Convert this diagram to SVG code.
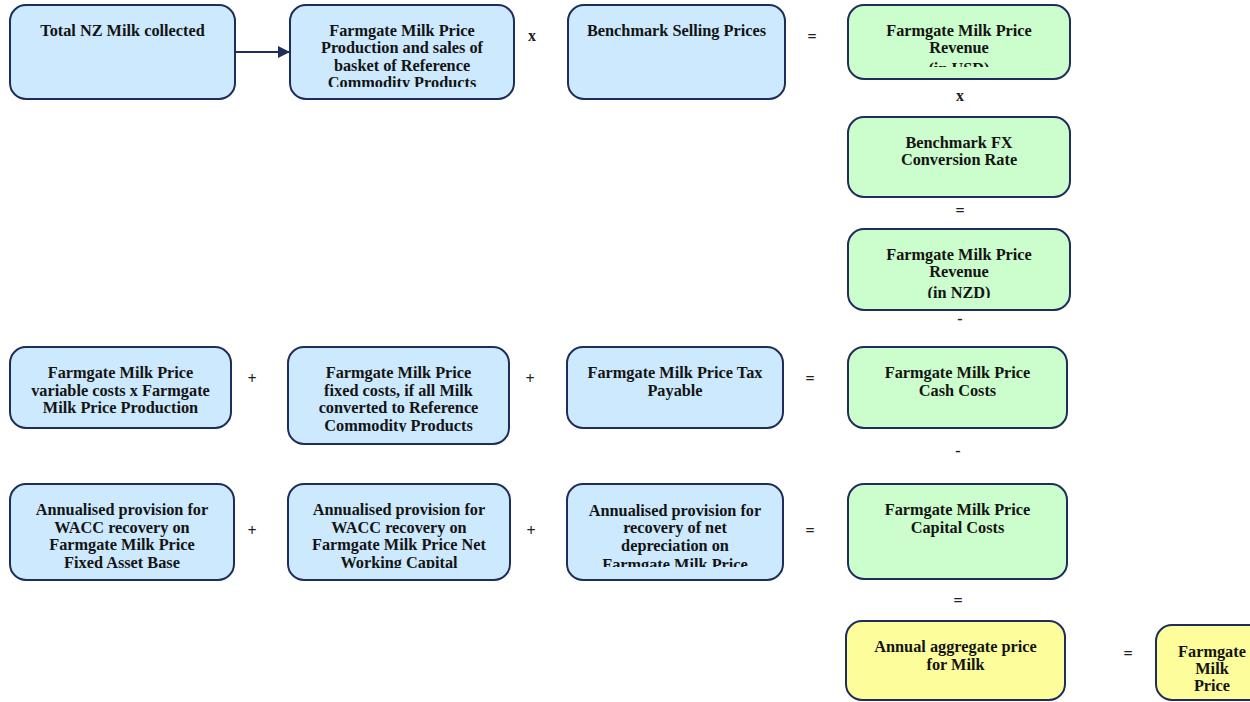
<svg xmlns="http://www.w3.org/2000/svg" width="1250" height="702" viewBox="0 0 1250 702">
<style>
.box{stroke:#1f2d5c;stroke-width:2}
.blue{fill:#cce9fd}
.green{fill:#ccfdcc}
.yellow{fill:#fdfd9c}
.t{font-family:"Liberation Serif","Times New Roman",serif;font-weight:bold;font-size:16.3px;fill:#141414;text-anchor:middle}
.op{font-family:"Liberation Serif","Times New Roman",serif;font-weight:bold;font-size:16px;fill:#202020;text-anchor:middle}
.conn{stroke:#1f2d5c;stroke-width:2;fill:none}
</style>
<defs>
<marker id="arr" markerWidth="12" markerHeight="12" refX="11" refY="6" orient="auto" markerUnits="userSpaceOnUse">
<path d="M0,0 L12,6 L0,12 Z" fill="#1f2d5c"/>
</marker>
<clipPath id="c-b2"><rect x="290" y="5" width="224" height="82"/></clipPath>
<clipPath id="c-g1"><rect x="848" y="5" width="222" height="62"/></clipPath>
<clipPath id="c-g3"><rect x="848" y="229" width="222" height="69"/></clipPath>
<clipPath id="c-r3b"><rect x="288" y="347" width="221" height="85"/></clipPath>
<clipPath id="c-r4a"><rect x="10" y="484" width="224" height="85"/></clipPath>
<clipPath id="c-r4b"><rect x="288" y="484" width="222" height="84"/></clipPath>
<clipPath id="c-r4c"><rect x="567" y="484" width="216" height="83"/></clipPath>
</defs>

<g id="connectors">
<line class="conn" x1="235" y1="52" x2="289" y2="52" marker-end="url(#arr)"/>
</g>

<g id="b1">
<rect class="box blue" x="10" y="5" width="225" height="94" rx="16"/>
<text class="t" x="122.5" y="35.5">Total NZ Milk collected</text>
</g>
<g id="b2">
<rect class="box blue" x="290" y="5" width="224" height="94" rx="16"/>
<text class="t" clip-path="url(#c-b2)"><tspan x="402" y="35.5">Farmgate Milk Price</tspan><tspan x="402" y="53">Production and sales of</tspan><tspan x="402" y="70.5">basket of Reference</tspan><tspan x="402" y="88">Commodity Products</tspan></text>
</g>
<g id="b3">
<rect class="box blue" x="568" y="5" width="217" height="94" rx="16"/>
<text class="t" x="676.5" y="35.5">Benchmark Selling Prices</text>
</g>
<g id="g1">
<rect class="box green" x="848" y="5" width="222" height="74" rx="16"/>
<text class="t" clip-path="url(#c-g1)"><tspan x="959" y="35.5">Farmgate Milk Price</tspan><tspan x="959" y="53">Revenue</tspan><tspan x="959" y="74">(in USD)</tspan></text>
</g>
<g id="g2">
<rect class="box green" x="848" y="117" width="222" height="80" rx="16"/>
<text class="t"><tspan x="959" y="147.5">Benchmark FX</tspan><tspan x="959" y="165">Conversion Rate</tspan></text>
</g>
<g id="g3">
<rect class="box green" x="848" y="229" width="222" height="81" rx="16"/>
<text class="t" clip-path="url(#c-g3)"><tspan x="959" y="259.5">Farmgate Milk Price</tspan><tspan x="959" y="277">Revenue</tspan><tspan x="959" y="298">(in NZD)</tspan></text>
</g>

<g id="r3a">
<rect class="box blue" x="10" y="347" width="221" height="81" rx="16"/>
<text class="t"><tspan x="120.5" y="378">Farmgate Milk Price</tspan><tspan x="120.5" y="395.5">variable costs x Farmgate</tspan><tspan x="120.5" y="413">Milk Price Production</tspan></text>
</g>
<g id="r3b">
<rect class="box blue" x="288" y="347" width="221" height="97" rx="16"/>
<text class="t" clip-path="url(#c-r3b)"><tspan x="398.5" y="378">Farmgate Milk Price</tspan><tspan x="398.5" y="395.5">fixed costs, if all Milk</tspan><tspan x="398.5" y="413">converted to Reference</tspan><tspan x="398.5" y="430.5">Commodity Products</tspan></text>
</g>
<g id="r3c">
<rect class="box blue" x="567" y="347" width="216" height="81" rx="16"/>
<text class="t"><tspan x="675" y="378">Farmgate Milk Price Tax</tspan><tspan x="675" y="395.5">Payable</tspan></text>
</g>
<g id="g4">
<rect class="box green" x="848" y="347" width="219" height="81" rx="16"/>
<text class="t"><tspan x="957.5" y="378">Farmgate Milk Price</tspan><tspan x="957.5" y="395.5">Cash Costs</tspan></text>
</g>

<g id="r4a">
<rect class="box blue" x="10" y="484" width="224" height="96" rx="16"/>
<text class="t" clip-path="url(#c-r4a)"><tspan x="122" y="515">Annualised provision for</tspan><tspan x="122" y="532.5">WACC recovery on</tspan><tspan x="122" y="550">Farmgate Milk Price</tspan><tspan x="122" y="567.5">Fixed Asset Base</tspan></text>
</g>
<g id="r4b">
<rect class="box blue" x="288" y="484" width="222" height="96" rx="16"/>
<text class="t" clip-path="url(#c-r4b)"><tspan x="399" y="515">Annualised provision for</tspan><tspan x="399" y="532.5">WACC recovery on</tspan><tspan x="399" y="550">Farmgate Milk Price Net</tspan><tspan x="399" y="567.5">Working Capital</tspan></text>
</g>
<g id="r4c">
<rect class="box blue" x="567" y="484" width="216" height="96" rx="16"/>
<text class="t" clip-path="url(#c-r4c)"><tspan x="675" y="515.5">Annualised provision for</tspan><tspan x="675" y="533">recovery of net</tspan><tspan x="675" y="550.5">depreciation on</tspan><tspan x="675" y="570">Farmgate Milk Price</tspan></text>
</g>
<g id="g5">
<rect class="box green" x="848" y="484" width="219" height="95" rx="16"/>
<text class="t"><tspan x="957.5" y="515">Farmgate Milk Price</tspan><tspan x="957.5" y="532.5">Capital Costs</tspan></text>
</g>

<g id="y1">
<rect class="box yellow" x="846" y="621" width="219" height="79" rx="16"/>
<text class="t"><tspan x="955.5" y="652">Annual aggregate price</tspan><tspan x="955.5" y="669.5">for Milk</tspan></text>
</g>
<g id="y2">
<rect class="box yellow" x="1156" y="625" width="112" height="75" rx="16"/>
<text class="t"><tspan x="1212" y="656.5">Farmgate</tspan><tspan x="1212" y="673.5">Milk</tspan><tspan x="1212" y="690.5">Price</tspan></text>
</g>

<g id="operators">
<text class="op" x="532" y="41">x</text>
<text class="op" x="812" y="42">=</text>
<text class="op" x="960" y="101">x</text>
<text class="op" x="960" y="216">=</text>
<text class="op" x="960" y="324">-</text>
<text class="op" x="252" y="384">+</text>
<text class="op" x="530" y="384">+</text>
<text class="op" x="810" y="384">=</text>
<text class="op" x="958" y="456">-</text>
<text class="op" x="252" y="536">+</text>
<text class="op" x="531" y="536">+</text>
<text class="op" x="810" y="536">=</text>
<text class="op" x="958" y="606">=</text>
<text class="op" x="1128" y="659">=</text>
</g>
</svg>
